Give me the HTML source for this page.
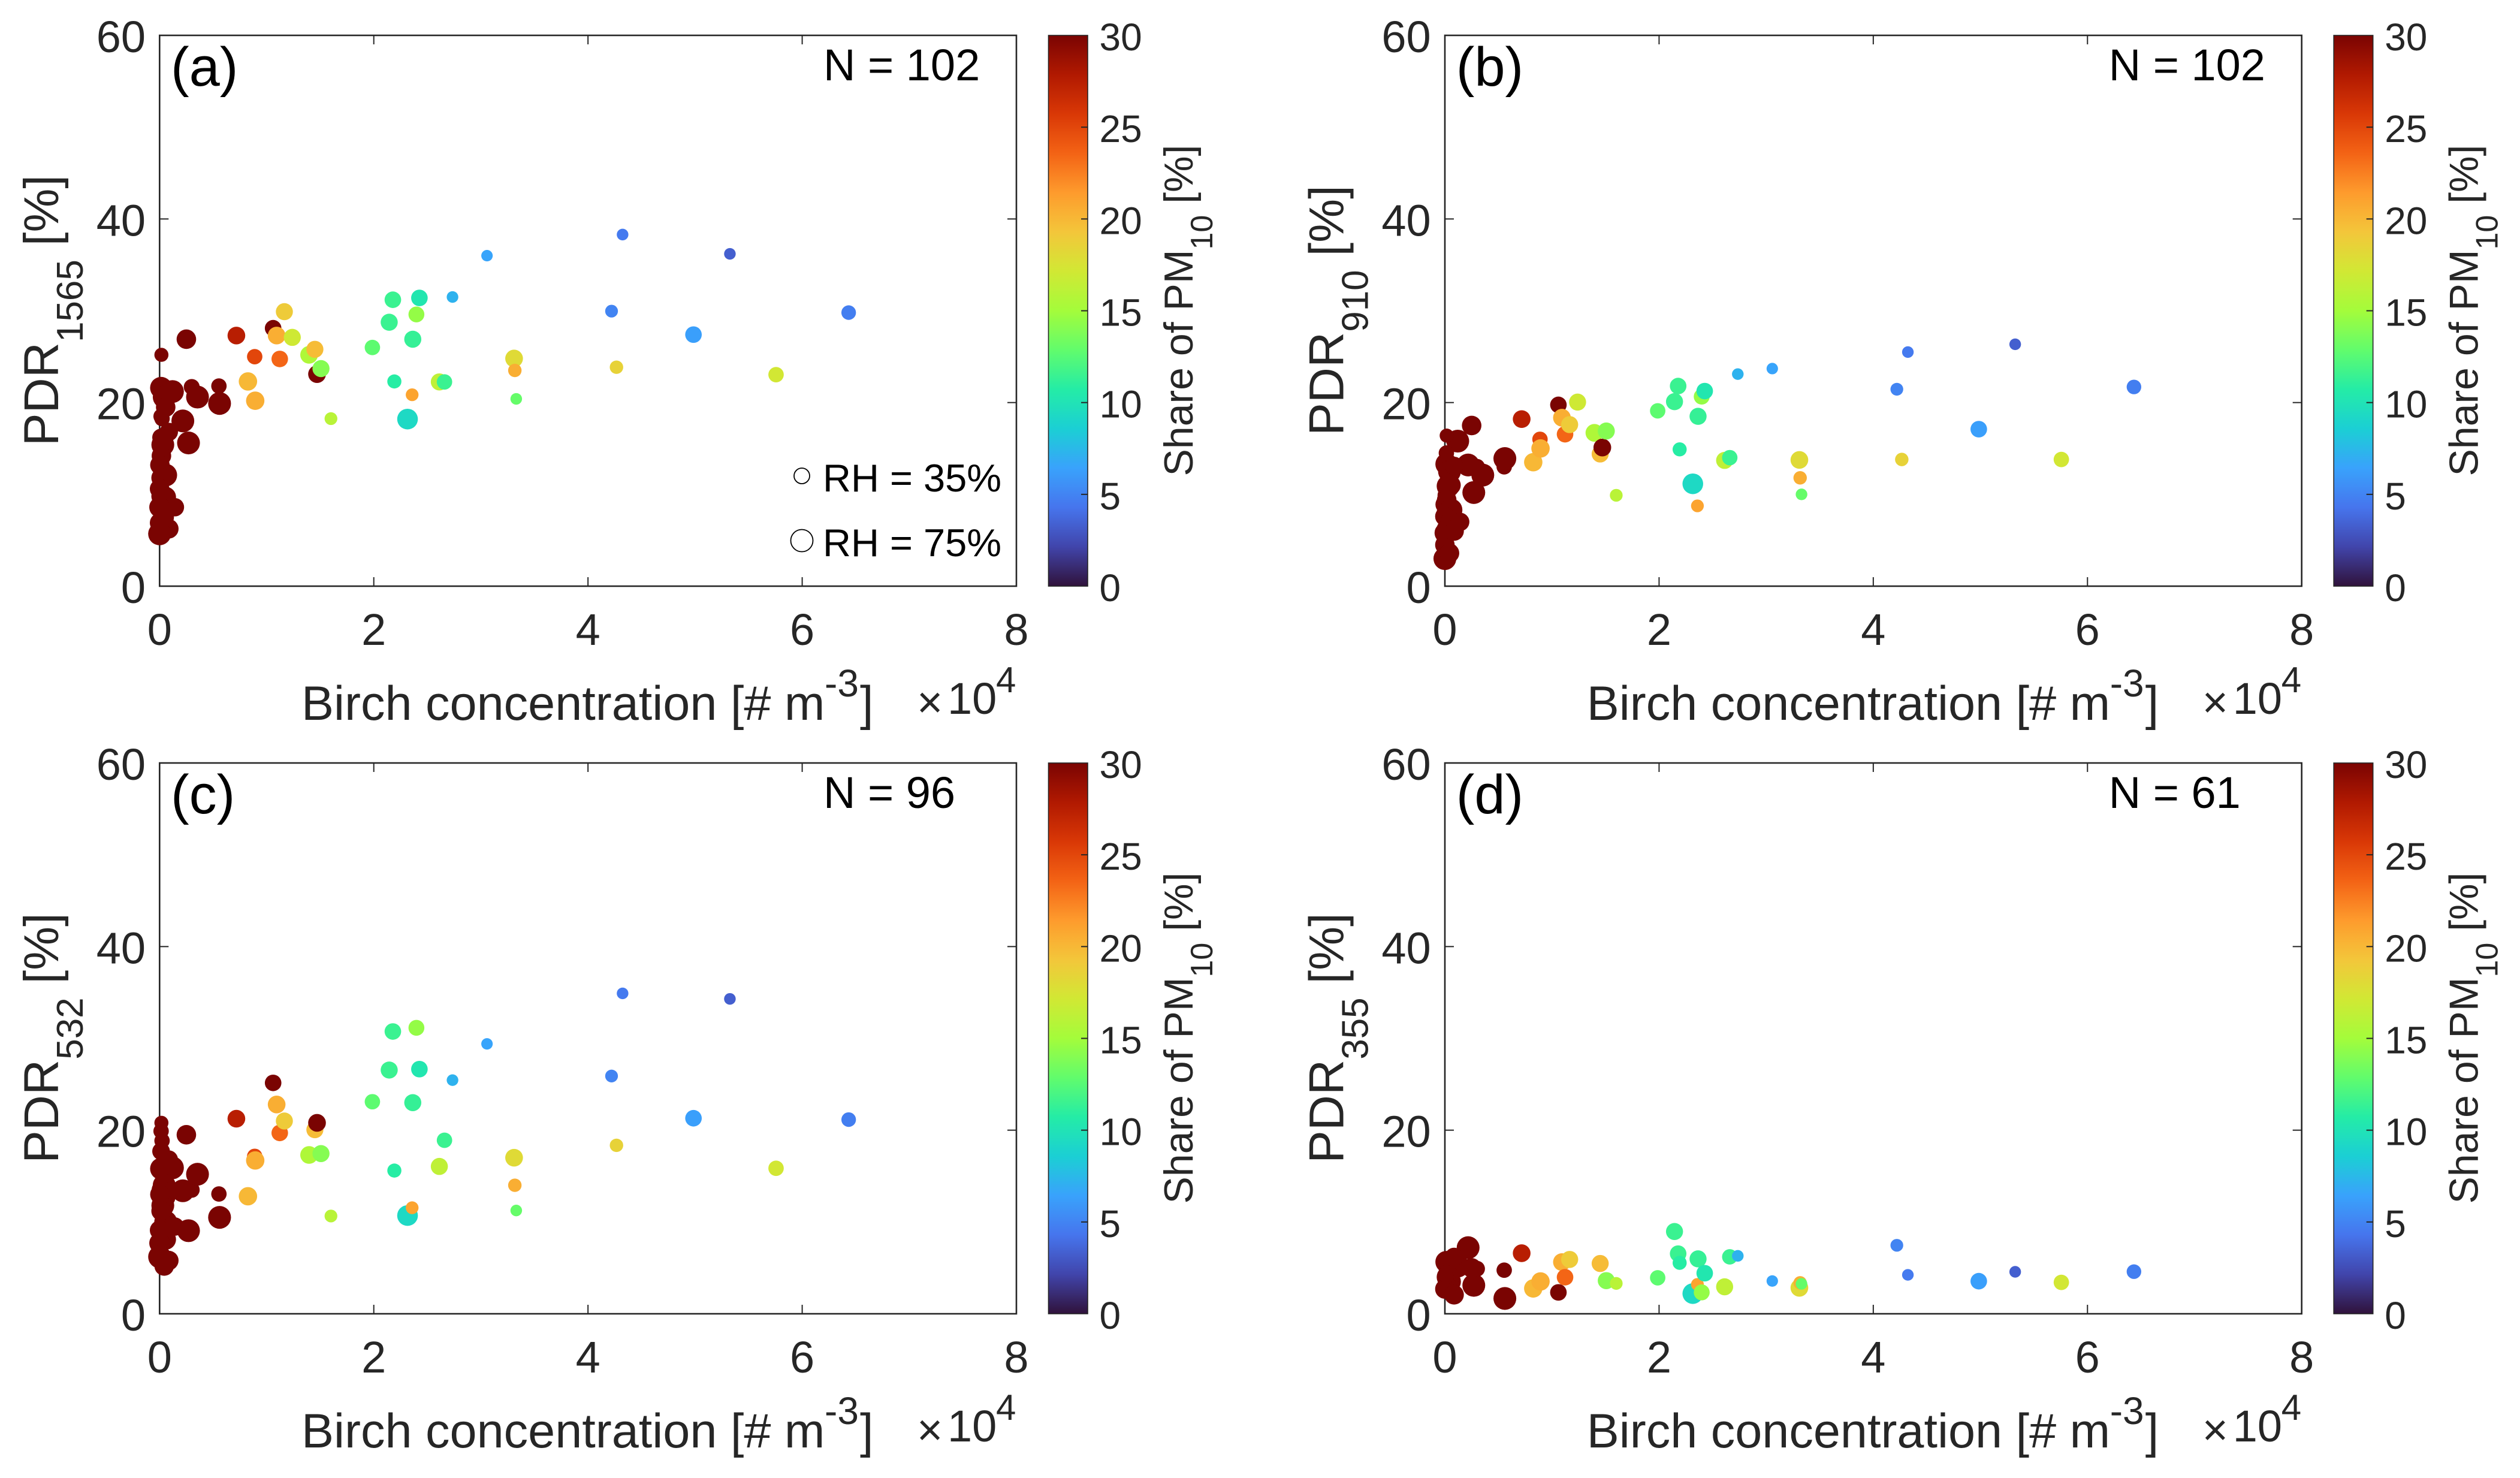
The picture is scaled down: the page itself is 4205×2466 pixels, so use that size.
<!DOCTYPE html>
<html lang="en">
<head>
<meta charset="utf-8">
<title>PDR versus birch concentration</title>
<style>
html,body{margin:0;padding:0;background:#fff;}
svg{display:block;}
text{font-family:"Liberation Sans",Arial,sans-serif;}
.tl{fill:#262626;font-size:74px;}
.cl{fill:#262626;font-size:64px;}
.at{fill:#262626;}
.bk{fill:#000;}
</style>
</head>
<body>
<svg id="fig" xmlns="http://www.w3.org/2000/svg" width="4205" height="2466" viewBox="0 0 4205 2466">
<defs><linearGradient id="turboGrad" x1="0" y1="1" x2="0" y2="0"></linearGradient></defs>
<rect width="4205" height="2466" fill="#fff"/>

<g id="panel-a" transform="translate(0,0)">
  <text x="285" y="143" font-size="92" class="bk">(a)</text>
  <text x="1374" y="134" font-size="74" class="bk">N = 102</text>
  <text transform="translate(97,518) rotate(-90)" text-anchor="middle" font-size="82" class="at">PDR<tspan dy="41" font-size="62">1565</tspan><tspan dy="-41"> [%]</tspan></text>
  <text x="503" y="1201" font-size="81" class="at">Birch concentration [# m</text>
  <text x="1376" y="1162" font-size="64" class="at">-3</text>
  <text x="1435" y="1201" font-size="81" class="at">]</text>
  <text x="1530" y="1197" font-size="74" class="at">×</text>
  <text x="1581" y="1191" font-size="74" class="at">10</text>
  <text x="1662" y="1155" font-size="60" class="at">4</text>
  <text transform="translate(1990,518) rotate(-90)" text-anchor="middle" font-size="68" class="at">Share of PM<tspan dy="33" font-size="52">10</tspan><tspan dy="-33"> [%]</tspan></text>
  <circle cx="1338" cy="794" r="13" fill="#fff" stroke="#000" stroke-width="1.8"/>
  <text x="1373" y="820" font-size="65" class="bk">RH = 35%</text>
  <circle cx="1338" cy="902" r="18.5" fill="#fff" stroke="#000" stroke-width="1.8"/>
  <text x="1373" y="928" font-size="65" class="bk">RH = 75%</text>
</g>

<g id="panel-b" transform="translate(2144.7,0)">
  <text x="285" y="143" font-size="92" class="bk">(b)</text>
  <text x="1374" y="134" font-size="74" class="bk">N = 102</text>
  <text transform="translate(97,518) rotate(-90)" text-anchor="middle" font-size="82" class="at">PDR<tspan dy="41" font-size="62">910</tspan><tspan dy="-41"> [%]</tspan></text>
  <text x="503" y="1201" font-size="81" class="at">Birch concentration [# m</text>
  <text x="1376" y="1162" font-size="64" class="at">-3</text>
  <text x="1435" y="1201" font-size="81" class="at">]</text>
  <text x="1530" y="1197" font-size="74" class="at">×</text>
  <text x="1581" y="1191" font-size="74" class="at">10</text>
  <text x="1662" y="1155" font-size="60" class="at">4</text>
  <text transform="translate(1990,518) rotate(-90)" text-anchor="middle" font-size="68" class="at">Share of PM<tspan dy="33" font-size="52">10</tspan><tspan dy="-33"> [%]</tspan></text>
</g>

<g id="panel-c" transform="translate(0,1214)">
  <text x="285" y="143" font-size="92" class="bk">(c)</text>
  <text x="1374" y="134" font-size="74" class="bk">N = 96</text>
  <text transform="translate(97,518) rotate(-90)" text-anchor="middle" font-size="82" class="at">PDR<tspan dy="41" font-size="62">532</tspan><tspan dy="-41"> [%]</tspan></text>
  <text x="503" y="1201" font-size="81" class="at">Birch concentration [# m</text>
  <text x="1376" y="1162" font-size="64" class="at">-3</text>
  <text x="1435" y="1201" font-size="81" class="at">]</text>
  <text x="1530" y="1197" font-size="74" class="at">×</text>
  <text x="1581" y="1191" font-size="74" class="at">10</text>
  <text x="1662" y="1155" font-size="60" class="at">4</text>
  <text transform="translate(1990,518) rotate(-90)" text-anchor="middle" font-size="68" class="at">Share of PM<tspan dy="33" font-size="52">10</tspan><tspan dy="-33"> [%]</tspan></text>
</g>

<g id="panel-d" transform="translate(2144.7,1214)">
  <text x="285" y="143" font-size="92" class="bk">(d)</text>
  <text x="1374" y="134" font-size="74" class="bk">N = 61</text>
  <text transform="translate(97,518) rotate(-90)" text-anchor="middle" font-size="82" class="at">PDR<tspan dy="41" font-size="62">355</tspan><tspan dy="-41"> [%]</tspan></text>
  <text x="503" y="1201" font-size="81" class="at">Birch concentration [# m</text>
  <text x="1376" y="1162" font-size="64" class="at">-3</text>
  <text x="1435" y="1201" font-size="81" class="at">]</text>
  <text x="1530" y="1197" font-size="74" class="at">×</text>
  <text x="1581" y="1191" font-size="74" class="at">10</text>
  <text x="1662" y="1155" font-size="60" class="at">4</text>
  <text transform="translate(1990,518) rotate(-90)" text-anchor="middle" font-size="68" class="at">Share of PM<tspan dy="33" font-size="52">10</tspan><tspan dy="-33"> [%]</tspan></text>
</g>
</svg>

<script>
var xTicks = [0, 2, 4, 6, 8];
var yTicks = [0, 20, 40, 60];
var colorbarTicks = [0, 5, 10, 15, 20, 25, 30];

/* Birch concentration in units of 10^4 per cubic metre */
var birch = [
0.014,0.12,0.30,0.354,0.554,0.56,0.043,0.057,0.014,0.023,
0.217,0.086,0.014,0.03,0.27,0.017,0.003,0.057,0.014,0,
0.057,0.014,0.143,0,0,0.086,0,0.043,0.017,0.25,
0.717,1.06,0.888,0.825,0.893,1.093,1.239,1.122,1.165,1.396,
1.45,1.47,1.507,1.6,1.987,2.178,2.144,2.364,2.192,2.315,
2.358,2.398,2.426,2.612,2.66,2.735,3.057,3.31,3.317,3.33,
4.323,5.325,4.22,4.985,6.434,4.266,5.756];

/* Share of PM10 in percent */
var share = [
30,30,30,30,30,30,30,30,30,30,
30,30,30,30,30,30,30,30,30,30,
30,30,30,30,30,30,30,30,30,30,
27.5,30,25,20,20.5,20.5,17,23.5,19,15.5,
19.8,30,14,16,12.7,11.5,11.5,11.3,10.8,9.3,
21,14.5,10.3,16.3,11.5,7.2,6.5,18,20.5,13,
4.5,3.3,5,6.3,4.7,18.5,17.2];

/* Relative humidity in percent, drives marker size */
var rh = [
74,79,37,79,34,79,79,59,34,34,
79,52,48,79,79,59,59,79,59,59,
66,59,52,66,59,59,79,59,26,59,
48,41,34,52,52,48,44,41,44,48,
44,48,44,18,34,41,44,44,26,66,
18,37,41,44,34,11,10,48,22,11,
11,11,18,41,29,22,34];

var pdr1565 = [
21.6,21.2,21.7,20.6,21.8,19.9,20.6,19.5,18.5,18.25,
18,16.8,16.2,15.4,15.6,14.2,13.2,12.1,11.8,10.6,
9.7,9.8,8.6,8.6,6.9,6.25,5.7,7.5,25.2,26.9,
27.3,28.1,25,22.3,20.2,27.3,27.1,24.75,29.9,25.2,
25.8,23.1,23.7,18.25,26,31.2,28.75,26.9,22.3,18.2,
20.85,29.6,31.4,22.25,22.25,31.5,36,24.8,23.5,20.4,
38.3,36.2,29.96,27.4,29.8,23.85,23.04];

var pdr910 = [
13.3,15.8,13,12.1,13,13.9,12.5,11,14.5,10.4,
13.2,13.1,9.9,10.9,10.2,9.4,8.9,8.3,8,7.6,
7,6.2,7,5.8,4.5,6,3,3.6,16.4,17.5,
18.2,19.75,16,13.5,15,18.35,20.05,16.55,17.6,16.7,
14.4,15.1,16.9,9.9,19.1,21.8,20.1,18.5,14.9,11.15,
8.75,20.65,21.25,13.7,14,23.1,23.7,13.75,11.8,10,
25.5,26.35,21.45,17.1,21.7,13.8,13.8];

var pdr532 = [
15.8,15.9,13.5,15.2,13.05,10.5,14,12.7,19.9,18.85,
13.4,16.8,17.7,11.8,9.05,13.5,13,10,11.2,9.1,
8.1,9,9.5,7.7,6.1,5.8,6.2,5.2,20.8,19.5,
21.25,25.15,17.15,12.8,16.7,22.8,null,19.7,21,17.3,
20.05,20.8,17.45,10.65,23.1,30.75,26.55,23,15.6,10.7,
11.55,31.15,26.65,16.05,18.9,25.45,29.4,17,14,11.25,
34.9,34.3,25.9,21.3,21.15,18.35,15.85];

var pdr355 = [
5.65,5.2,4.9,null,4.75,1.67,3.5,null,4.5,null,
7.2,6.2,3,4,3.1,3,null,null,null,2.7,
null,null,null,null,null,2.07,null,null,4,5,
6.6,2.33,null,2.76,3.52,5.63,null,3.98,5.92,null,
5.48,null,3.61,3.31,3.92,6.55,8.96,5.98,5.55,2.2,
3.2,2.33,4.42,2.94,6.2,6.31,3.57,2.83,3.37,3.26,
4.24,4.57,7.46,3.55,4.59,null,3.42];

var turboPalette = ["#30123b","#4145ab","#4675ed","#39a2fc","#1bcfd4","#24eca6","#61fc6c","#a4fc3b","#d1e834","#f3c63a","#fe9b2d","#f36315","#d93806","#b11901","#7a0402"];

var NS = "http://www.w3.org/2000/svg";
var AX = {left:266.3, right:1696, top:59, bottom:978, xMax:8, yMax:60};
var CB = {left:1749.5, right:1815, tick:11};
var AXIS_COLOR = "#262626";

function xScale(v){ return AX.left + (v / AX.xMax) * (AX.right - AX.left); }
function yScale(v){ return AX.bottom - (v / AX.yMax) * (AX.bottom - AX.top); }
function cScale(v){ return AX.bottom - (v / 30) * (AX.bottom - AX.top); }
function rScale(h){ return 13 + (h - 35) * 0.1375; }
function hexToRgb(h){ return [parseInt(h.substr(1,2),16),parseInt(h.substr(3,2),16),parseInt(h.substr(5,2),16)]; }
function turbo(t){
  t = Math.max(0, Math.min(1, t));
  var p = t * (turboPalette.length - 1);
  var i = Math.min(Math.floor(p), turboPalette.length - 2);
  var f = p - i;
  var a = hexToRgb(turboPalette[i]);
  var b = hexToRgb(turboPalette[i + 1]);
  return "rgb(" + Math.round(a[0] + (b[0] - a[0]) * f) + "," + Math.round(a[1] + (b[1] - a[1]) * f) + "," + Math.round(a[2] + (b[2] - a[2]) * f) + ")";
}
function svgEl(tag, attrs, parent){
  var e = document.createElementNS(NS, tag);
  for (var k in attrs) { e.setAttribute(k, attrs[k]); }
  parent.appendChild(e);
  return e;
}

var gradient = document.getElementById("turboGrad");
for (var s = 0; s <= 56; s++) {
  var stopEl = svgEl("stop", {offset: (s / 56), "stop-color": turbo(s / 56)}, gradient);
  
  
}

function drawPanel(id, values){
  var g = document.getElementById("panel-" + id);

  var frame = svgEl("rect", {x:AX.left, y:AX.top, width:AX.right-AX.left, height:AX.bottom-AX.top, fill:"none", stroke:AXIS_COLOR, "stroke-width":2.6}, g);
  
  

  xTicks.forEach(function(t){
    var x = xScale(t);
    if (t > 0 && t < AX.xMax) {
      var tb = svgEl("line", {x1:x, x2:x, y1:AX.bottom, y2:AX.bottom-15, stroke:AXIS_COLOR, "stroke-width":2}, g);
      
      
      var tt = svgEl("line", {x1:x, x2:x, y1:AX.top, y2:AX.top+15, stroke:AXIS_COLOR, "stroke-width":2}, g);
      
      
    }
    var lab = svgEl("text", {x:x, y:AX.bottom+98, "text-anchor":"middle", "class":"tl"}, g);
    
    
    lab.textContent = String(t);
  });

  yTicks.forEach(function(t){
    var y = yScale(t);
    if (t > 0 && t < AX.yMax) {
      var tl = svgEl("line", {x1:AX.left, x2:AX.left+15, y1:y, y2:y, stroke:AXIS_COLOR, "stroke-width":2}, g);
      
      
      var tr = svgEl("line", {x1:AX.right, x2:AX.right-15, y1:y, y2:y, stroke:AXIS_COLOR, "stroke-width":2}, g);
      
      
    }
    var lab = svgEl("text", {x:243, y:y+28, "text-anchor":"end", "class":"tl"}, g);
    
    
    lab.textContent = String(t);
  });

  var bar = svgEl("rect", {x:CB.left, y:AX.top, width:CB.right-CB.left, height:AX.bottom-AX.top, fill:"url(#turboGrad)", stroke:AXIS_COLOR, "stroke-width":1.6}, g);
  
  

  colorbarTicks.forEach(function(t){
    var y = cScale(t);
    if (t > 0 && t < 30) {
      var tick = svgEl("line", {x1:CB.right, x2:CB.right-CB.tick, y1:y, y2:y, stroke:AXIS_COLOR, "stroke-width":2}, g);
      
      
    }
    var lab = svgEl("text", {x:CB.left+85, y:y+25, "class":"cl"}, g);
    
    
    lab.textContent = String(t);
  });

  values.forEach(function(v, i){
    if (v === null) { return; }
    var dot = svgEl("circle", {cx:xScale(birch[i]), cy:yScale(v), r:rScale(rh[i]), fill:turbo(share[i] / 30)}, g);
    
    
  });
}

drawPanel("a", pdr1565);
drawPanel("b", pdr910);
drawPanel("c", pdr532);
drawPanel("d", pdr355);
</script>
</body>
</html>
